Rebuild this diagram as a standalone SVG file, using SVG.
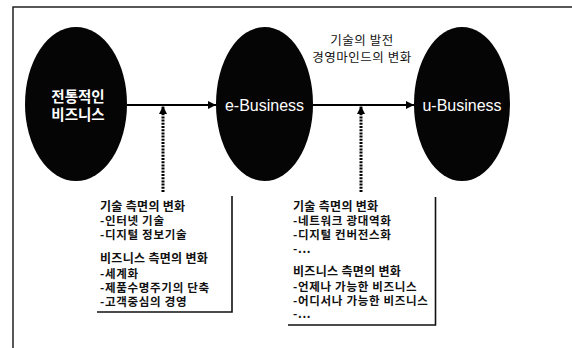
<svg xmlns="http://www.w3.org/2000/svg" width="572" height="348" viewBox="0 0 572 348">
<defs>
<marker id="ah" viewBox="0 0 10 10" refX="10" refY="5" markerWidth="10" markerHeight="8" markerUnits="userSpaceOnUse" orient="auto">
<path d="M0,0 L10,5 L0,10 z" fill="#000"/>
</marker>
<marker id="ahd" viewBox="0 0 10 10" refX="10" refY="5" markerWidth="9" markerHeight="8" markerUnits="userSpaceOnUse" orient="auto">
<path d="M0,0 L10,5 L0,10 z" fill="#000"/>
</marker>
</defs>
<style>
.ell{fill:#050505}
.et{font-family:"Noto Sans CJK KR","Liberation Sans",sans-serif;font-size:14.5px;font-weight:bold;fill:#fff;text-anchor:middle}
.lt{font-family:"Liberation Sans","Noto Sans CJK KR",sans-serif;font-size:16px;fill:#fff;text-anchor:middle}
.cap{font-family:"Noto Sans CJK KR",sans-serif;font-size:12.5px;letter-spacing:0.5px;fill:#111;text-anchor:middle}
.hd{font-family:"Noto Sans CJK KR",sans-serif;font-size:12px;font-weight:bold;letter-spacing:0.3px;fill:#111}
.it{font-family:"Noto Sans CJK KR",sans-serif;font-size:11.5px;font-weight:bold;letter-spacing:0.7px;fill:#111}
.frame{fill:none;stroke:#222;stroke-width:1.5}
.box{fill:none;stroke:#111;stroke-width:1.6}
.main{stroke:#000;stroke-width:2.2;fill:none;marker-end:url(#ah)}
.dot{stroke:#000;stroke-width:3;stroke-dasharray:2 1.2;fill:none;marker-end:url(#ahd)}
</style>
<rect width="572" height="348" fill="#fff"/>
<path class="frame" d="M13,348 L13,7 L572,7"/>

<g id="node-traditional">
<ellipse class="ell" cx="76" cy="104" rx="51" ry="77"/>
<text class="et" x="78" y="102">전통적인</text>
<text class="et" x="78" y="120">비즈니스</text>
</g>

<g id="node-ebusiness">
<ellipse class="ell" cx="264.5" cy="104" rx="48.5" ry="77"/>
<text class="lt" x="264.5" y="111">e-Business</text>
</g>

<g id="node-ubusiness">
<ellipse class="ell" cx="462" cy="104" rx="48" ry="77"/>
<text class="lt" x="462" y="111">u-Business</text>
</g>

<g id="label-top">
<text class="cap" x="362" y="45">기술의 발전</text>
<text class="cap" x="362" y="62">경영마인드의 변화</text>
</g>

<g id="connectors">
<line class="main" x1="127" y1="105" x2="216" y2="105"/>
<line class="main" x1="313" y1="105" x2="414" y2="105"/>
<line class="dot" x1="163" y1="192" x2="163" y2="106"/>
<line class="dot" x1="361" y1="192" x2="361" y2="106"/>
</g>

<g id="box-left">
<path class="box" d="M232,196 L232,312 L97,312"/>
<text class="hd" x="100" y="211">기술 측면의 변화</text>
<text class="it" x="100" y="225">-인터넷 기술</text>
<text class="it" x="100" y="239">-디지털 정보기술</text>
<text class="hd" x="100" y="263">비즈니스 측면의 변화</text>
<text class="it" x="100" y="278">-세계화</text>
<text class="it" x="100" y="292">-제품수명주기의 단축</text>
<text class="it" x="100" y="306">-고객중심의 경영</text>
</g>

<g id="box-right">
<path class="box" d="M435.5,197 L435.5,325 L288,325"/>
<text class="hd" x="293" y="211">기술 측면의 변화</text>
<text class="it" x="293" y="225">-네트워크 광대역화</text>
<text class="it" x="293" y="239">-디지털 컨버전스화</text>
<text class="it" x="293" y="253">-...</text>
<text class="hd" x="293" y="276">비즈니스 측면의 변화</text>
<text class="it" x="293" y="291">-언제나 가능한 비즈니스</text>
<text class="it" x="293" y="305">-어디서나 가능한 비즈니스</text>
<text class="it" x="293" y="318">-...</text>
</g>
</svg>
